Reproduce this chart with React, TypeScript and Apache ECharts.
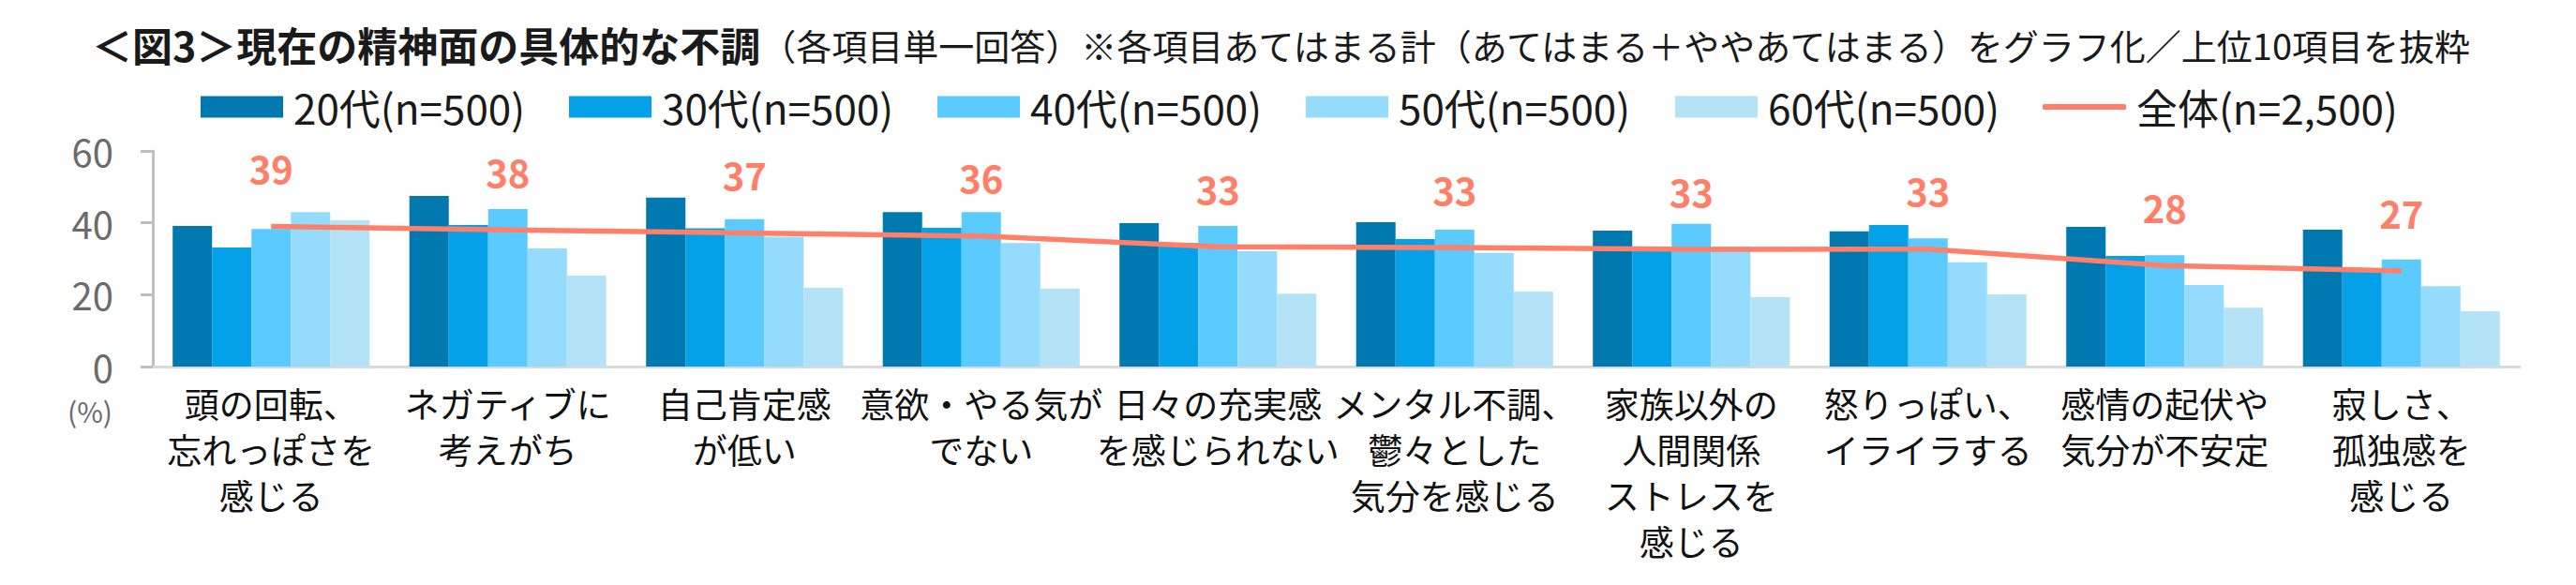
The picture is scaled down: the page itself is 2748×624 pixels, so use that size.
import React, { useEffect, useRef } from "react";
import * as echarts from "echarts";

const categories = [
  "頭の回転、\n忘れっぽさを\n感じる",
  "ネガティブに\n考えがち",
  "自己肯定感\nが低い",
  "意欲・やる気が\nでない",
  "日々の充実感\nを感じられない",
  "メンタル不調、\n鬱々とした\n気分を感じる",
  "家族以外の\n人間関係\nストレスを\n感じる",
  "怒りっぽい、\nイライラする",
  "感情の起伏や\n気分が不安定",
  "寂しさ、\n孤独感を\n感じる",
];

const seriesNames = ["20代(n=500)", "30代(n=500)", "40代(n=500)", "50代(n=500)", "60代(n=500)"];
const lineName = "全体(n=2,500)";

const s20 = [39.1, 47.5, 47.0, 43.0, 39.9, 40.2, 37.8, 37.6, 38.9, 38.1];
const s30 = [33.1, 39.4, 38.5, 38.6, 34.4, 35.5, 32.5, 39.4, 30.8, 26.5];
const s40 = [38.3, 43.8, 41.0, 43.0, 39.1, 38.1, 39.7, 35.7, 31.0, 29.8];
const s50 = [43.0, 32.9, 36.1, 34.4, 32.1, 31.6, 33.4, 29.0, 22.7, 22.4];
const s60 = [40.7, 25.3, 21.9, 21.7, 20.3, 20.9, 19.3, 20.1, 16.4, 15.4];
const overall = [39.0, 38.0, 37.2, 36.3, 33.3, 33.1, 32.6, 32.7, 28.1, 26.6];

const yTicks = { min: 0, max: 60, interval: 20 };

const titleBold = "＜図3＞現在の精神面の具体的な不調";
const titleRest = "（各項目単一回答）※各項目あてはまる計（あてはまる＋ややあてはまる）をグラフ化／上位10項目を抜粋";
const unitLabel = "(%)";

const barColors = ["#0078B0", "#04A0E8", "#5BCAFF", "#95DBFE", "#B4E3F8"];
const lineColor = "#FF7F69";
const FONT = "'Noto Sans CJK JP', 'Noto Sans', sans-serif";

export default function App() {
  const ref = useRef<HTMLDivElement>(null);
  useEffect(() => {
    if (!ref.current) return;
    const chart = echarts.init(ref.current, null, { renderer: "svg" });
    const barData = [s20, s30, s40, s50, s60];
    const legendLefts = [214, 607, 1000, 1393, 1787, 2179];

    const legends: any[] = seriesNames.map((n, i) => ({
      data: [n],
      left: legendLefts[i],
      top: 92,
      padding: 0,
      icon: "rect",
      itemWidth: 88,
      itemHeight: 23,
      textStyle: { fontFamily: FONT, fontSize: 44, color: "#1a1a1a", padding: [0, 0, 0, 6] },
      selectedMode: false,
    }));
    legends.push({
      data: [lineName],
      left: legendLefts[5],
      top: 92,
      padding: 0,
      icon: "roundRect",
      itemWidth: 89,
      itemHeight: 6,
      textStyle: { fontFamily: FONT, fontSize: 44, color: "#1a1a1a", padding: [0, 0, 0, 6] },
      selectedMode: false,
    });

    const series: any[] = barData.map((d, i) => ({
      name: seriesNames[i],
      type: "bar",
      data: d,
      barGap: "0%",
      barCategoryGap: "16.8%",
      itemStyle: { color: barColors[i] },
      z: 2,
    }));
    series.push({
      name: lineName,
      type: "line",
      data: overall,
      symbol: "circle",
      symbolSize: 1,
      itemStyle: { color: lineColor },
      lineStyle: { color: lineColor, width: 5.5 },
      z: 5,
      label: {
        show: true,
        position: "top",
        distance: 42,
        fontFamily: FONT,
        fontSize: 40,
        lineHeight: 40,
        fontWeight: "bold",
        color: lineColor,
        formatter: (p: any) => String(Math.round(p.value)),
      },
    });

    chart.setOption({
      animation: false,
      backgroundColor: "#ffffff",
      title: {
        text: `{b|${titleBold}}{r|${titleRest}}`,
        left: 98,
        top: 22,
        padding: 0,
        textStyle: {
          rich: {
            b: { fontFamily: FONT, fontSize: 43, fontWeight: "bold", color: "#1a1a1a", lineHeight: 50 },
            r: { fontFamily: FONT, fontSize: 38, fontWeight: "normal", color: "#1a1a1a", lineHeight: 50 },
          },
        },
      },
      legend: legends,
      grid: { left: 163, right: 60, top: 161, bottom: 233, containLabel: false },
      xAxis: {
        type: "category",
        data: categories,
        axisLine: { show: true, lineStyle: { color: "#D9D9D9", width: 3 } },
        axisTick: { show: false },
        axisLabel: {
          interval: 0,
          fontFamily: FONT,
          fontSize: 37,
          lineHeight: 49,
          color: "#111",
          margin: 14,
        },
      },
      yAxis: {
        type: "value",
        min: yTicks.min,
        max: yTicks.max,
        interval: yTicks.interval,
        axisLine: { show: true, lineStyle: { color: "#BFBFBF", width: 3 } },
        axisTick: { show: true, length: 13, lineStyle: { color: "#BFBFBF", width: 3 } },
        splitLine: { show: false },
        axisLabel: { fontFamily: FONT, fontSize: 40, color: "#6B6B6B", margin: 42 },
      },
      graphic: [
        {
          type: "text",
          left: 72,
          top: 423,
          style: { text: unitLabel, fontFamily: FONT, fontSize: 30, fill: "#6B6B6B" },
        },
      ],
      series,
    });
    return () => chart.dispose();
  }, []);
  return (
    <div
      ref={ref}
      style={{ position: "fixed", left: 0, top: 0, width: 2748, height: 624, background: "#fff" }}
    />
  );
}
